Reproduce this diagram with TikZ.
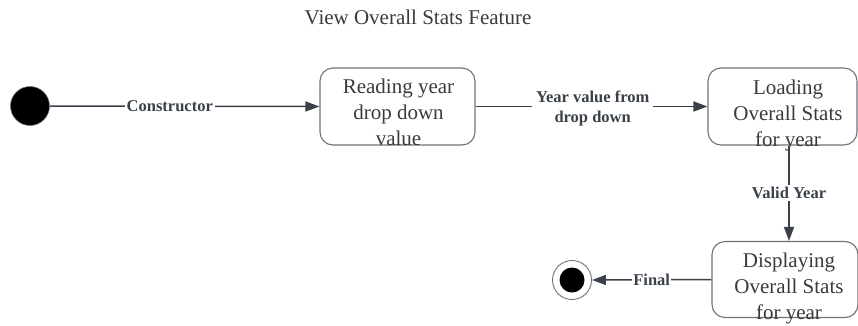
\documentclass[tikz,border=0pt]{standalone}
\usepackage{fontspec}
\setmainfont{Liberation Serif}
\usetikzlibrary{arrows.meta,calc}
\definecolor{linec}{HTML}{3A414A}
\definecolor{boxc}{HTML}{6E7379}
\definecolor{txtc}{HTML}{3A3A3A}
\tikzset{
  state/.style={draw=boxc, line width=1.1pt, rounded corners=13pt, minimum width=#1, inner sep=0pt},
  stxt/.style={text=txtc, font=\fontsize{21}{25.8}\selectfont, align=center, inner sep=0pt, anchor=north},
  conn/.style={draw=linec, line width=1.5pt, -{Triangle[length=14pt,width=10pt]}},
  lab/.style={fill=white, text=linec, font=\bfseries\fontsize{16.5}{20}\selectfont, align=center, inner sep=2pt},
}
\begin{document}
\begin{tikzpicture}[x=1pt,y=-1pt]
\useasboundingbox (0,0) rectangle (858,325);
\node[text=txtc, font=\fontsize{21}{25}\selectfont] (title) at (418,17) {View Overall Stats Feature};
% initial
\node[circle, fill=black, draw=boxc, line width=0.6pt, minimum size=39pt, inner sep=0pt] (init) at (30,106) {};
% state boxes
\node[state=155pt, minimum height=77pt] (b1) at (397.5,106.5) {};
\node[stxt] (t1) at (398.5,78.7) {Reading year\\drop down\\value};
\node[state=149pt, minimum height=77pt] (b2) at (782.5,106.5) {};
\node[stxt] (t2) at (788,79.7) {Loading\\Overall Stats\\for year};
\node[state=146pt, minimum height=76pt] (b3) at (785,279.5) {};
\node[stxt] (t3) at (789,252.7) {Displaying\\Overall Stats\\for year};
% final
\node[circle, draw=boxc, line width=0.9pt, fill=white, minimum size=39pt, inner sep=0pt] (fin) at (572,280) {};
\node[circle, fill=black, minimum size=25pt, inner sep=0pt] (fininner) at (fin.center) {};
\coordinate (vx) at (789,0);
% connectors
\draw[conn] (init) -- node[lab, pos=0.445] (l1) {Constructor} (b1.west);
\draw[conn] (b1.east) -- node[lab, pos=0.505, yshift=-2pt, inner xsep=4pt] (l2) {Year value from\\drop down} (b2.west);
\draw[conn] (vx |- b2.south) -- node[lab] (l3) {Valid Year} (vx |- b3.north);
\draw[conn] (b3.west) -- node[lab, inner sep=1pt] (l4) {Final} (fin.east);
\end{tikzpicture}
\end{document}
